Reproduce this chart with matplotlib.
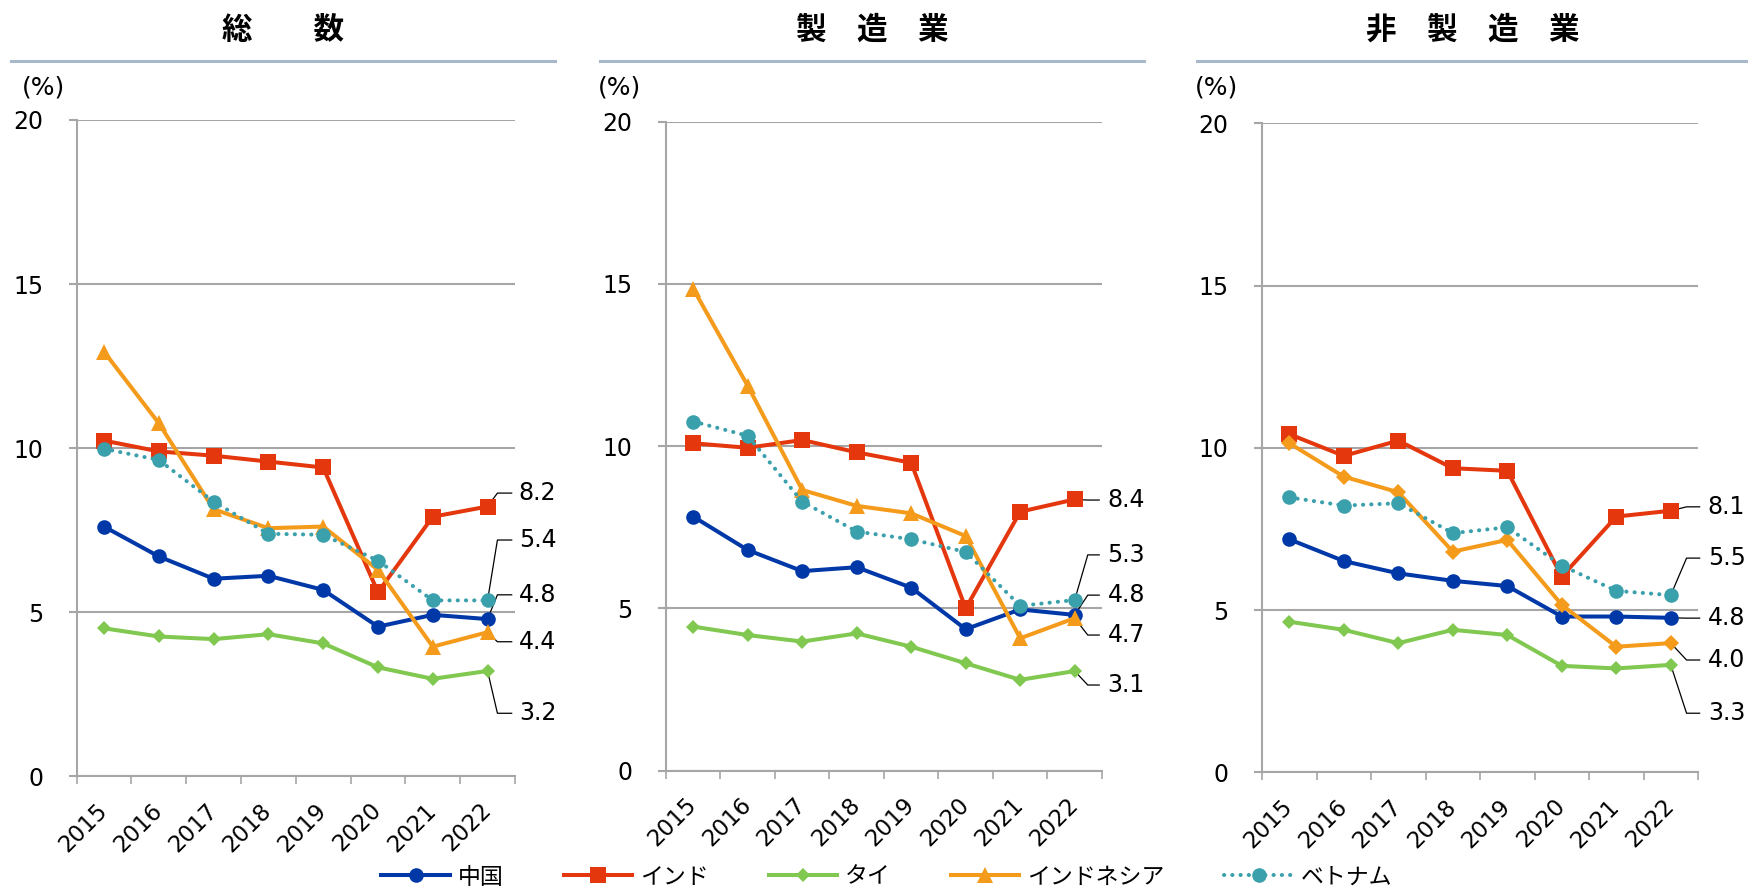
import matplotlib
matplotlib.use("Agg")
import matplotlib.pyplot as plt
from matplotlib.lines import Line2D

# ---- data -------------------------------------------------------------
years = ["2015", "2016", "2017", "2018", "2019", "2020", "2021", "2022"]
countries = ["中国", "インド", "タイ", "インドネシア", "ベトナム"]
panel_titles = ["総　　数", "製　造　業", "非　製　造　業"]

# 総数
total_china = [7.61, 6.70, 6.02, 6.11, 5.68, 4.56, 4.92, 4.79]
total_india = [10.23, 9.90, 9.77, 9.59, 9.41, 5.61, 7.91, 8.22]
total_thai = [4.51, 4.26, 4.18, 4.33, 4.05, 3.32, 2.97, 3.21]
total_indonesia = [12.94, 10.76, 8.14, 7.56, 7.61, 6.29, 3.95, 4.39]
total_vietnam = [9.98, 9.64, 8.37, 7.39, 7.36, 6.57, 5.36, 5.36]

# 製造業
mfg_china = [7.83, 6.80, 6.15, 6.27, 5.64, 4.36, 4.97, 4.80]
mfg_india = [10.09, 9.95, 10.19, 9.81, 9.49, 5.00, 7.98, 8.36]
mfg_thai = [4.44, 4.18, 3.98, 4.23, 3.82, 3.31, 2.80, 3.07]
mfg_indonesia = [14.85, 11.86, 8.65, 8.16, 7.93, 7.23, 4.08, 4.70]
mfg_vietnam = [10.76, 10.32, 8.29, 7.37, 7.13, 6.74, 5.08, 5.26]

# 非製造業
nonmfg_china = [7.18, 6.51, 6.13, 5.90, 5.74, 4.80, 4.80, 4.76]
nonmfg_india = [10.42, 9.75, 10.22, 9.37, 9.29, 6.03, 7.88, 8.06]
nonmfg_thai = [4.64, 4.39, 3.98, 4.39, 4.23, 3.28, 3.20, 3.31]
nonmfg_indonesia = [10.14, 9.11, 8.63, 6.80, 7.16, 5.16, 3.87, 3.98]
nonmfg_vietnam = [8.47, 8.22, 8.29, 7.37, 7.55, 6.37, 5.59, 5.46]

panels = [
    [total_china, total_india, total_thai, total_indonesia, total_vietnam],
    [mfg_china, mfg_india, mfg_thai, mfg_indonesia, mfg_vietnam],
    [nonmfg_china, nonmfg_india, nonmfg_thai, nonmfg_indonesia, nonmfg_vietnam],
]

# ---- styles -----------------------------------------------------------
colors = ["#0038A8", "#E5370E", "#80C850", "#F49B1C", "#3AA0AC"]
markers = ["o", "s", "D", "^", "o"]
marker_sizes = [10.5, 11, 7.5, 11, 10.5]
panel_markers = [markers, markers, ["o", "s", "D", "D", "o"]]
panel_marker_sizes = [marker_sizes, marker_sizes, [10.5, 11, 7.5, 8.5, 10.5]]
dotted = (0, (0.05, 2.0))
line_w = 2.9

# end-of-series label layout: label heights (y units) per series,
# and leader elbow / end / text x-offsets (category units)
label_heights = [
    [5.53, 8.63, 1.92, 4.10, 7.20],
    [5.41, 8.34, 2.64, 4.18, 6.65],
    [4.75, 8.18, 1.82, 3.46, 6.60],
]
leader_offsets = [(0.18, 0.44, 0.57), (0.24, 0.45, 0.60), (0.29, 0.53, 0.68)]

axes_rects = [
    (0.0438, 0.1258, 0.2508, 0.7391),
    (0.3810, 0.1321, 0.2494, 0.7309),
    (0.7220, 0.1303, 0.2494, 0.7309),
]
header_spans = [(11, 555), (600, 1144), (1197, 1748)]
percent_x = [22, 598, 1195]

grid_color = "#A6A6A6"
cjk = ["Noto Sans CJK JP", "DejaVu Sans"]
plt.rcParams["font.family"] = ["DejaVu Sans", "Noto Sans CJK JP"]

W, H = 1748, 888
fig = plt.figure(figsize=(W / 100, H / 100), dpi=100)

for p, (rect, series) in enumerate(zip(axes_rects, panels)):
    ax = fig.add_axes(rect)
    x = list(range(len(years)))
    for s, vals in enumerate(series):
        ls = dotted if s == 4 else "-"
        ax.plot(x, vals, color=colors[s], lw=line_w, ls=ls,
                dash_capstyle="round", marker=panel_markers[p][s],
                markersize=panel_marker_sizes[p][s],
                markeredgewidth=0, zorder=3 + s, clip_on=False)
        # value label for the final year, with a leader line
        last = vals[-1]
        ly = label_heights[p][s]
        e, h, t = leader_offsets[p]
        xe = x[-1]
        ax.plot([xe, xe + e, xe + h], [last, ly, ly], color="black",
                lw=0.9, zorder=2, clip_on=False)
        ax.text(xe + t, ly, f"{last:.1f}", fontsize=17, color="black",
                ha="left", va="center", clip_on=False)

    ax.set_xlim(-0.5, len(years) - 0.5)
    ax.set_ylim(0, 20)
    ax.set_yticks([0, 5, 10, 15, 20])
    ax.set_yticklabels(["0", "5", "10", "15", "20"], fontsize=17)
    ax.set_xticks(x)
    ax.set_xticklabels(years, fontsize=16.5, rotation=45, ha="right",
                       va="center", rotation_mode="anchor")
    ax.set_xticks([i - 0.5 for i in range(len(years) + 1)], minor=True)
    ax.tick_params(axis="x", which="major", length=0, pad=22)
    ax.tick_params(axis="x", which="minor", length=6, width=1.2,
                   color=grid_color, direction="out")
    ax.tick_params(axis="y", length=6, width=1.5, color=grid_color,
                   direction="out", pad=18)
    ax.yaxis.grid(True, color=grid_color, lw=1.5)
    ax.set_axisbelow(True)
    for side in ("top", "right"):
        ax.spines[side].set_visible(False)
    for side in ("left", "bottom"):
        ax.spines[side].set_color(grid_color)
        ax.spines[side].set_linewidth(1.5)

    # header: title and rule
    x0, x1 = header_spans[p]
    fig.text((x0 + x1) / 2 / W, 1 - 30 / H, panel_titles[p], fontsize=22,
             fontweight="bold", family=cjk, ha="center", va="center")
    fig.add_artist(Line2D([x0 / W, x1 / W], [1 - 61 / H, 1 - 61 / H],
                          color="#A9B7CB", lw=2.2))
    fig.text(percent_x[p] / W, 1 - 87 / H, "(%)", fontsize=18,
             ha="left", va="center")

# legend along the bottom
handles = []
for s, name in enumerate(countries):
    handles.append(Line2D([], [], color=colors[s], lw=line_w,
                          ls=dotted if s == 4 else "-",
                          dash_capstyle="round", marker=markers[s],
                          markersize=marker_sizes[s], markeredgewidth=0,
                          label=name))
leg = fig.legend(handles=handles, loc="center", ncol=5,
                 bbox_to_anchor=(887 / W, 1 - 877 / H), frameon=False,
                 prop={"family": cjk, "size": 16.5}, handlelength=3.0,
                 handletextpad=0.35, columnspacing=2.6, borderpad=0,
                 borderaxespad=0)

fig.savefig("out.png", dpi=100)
